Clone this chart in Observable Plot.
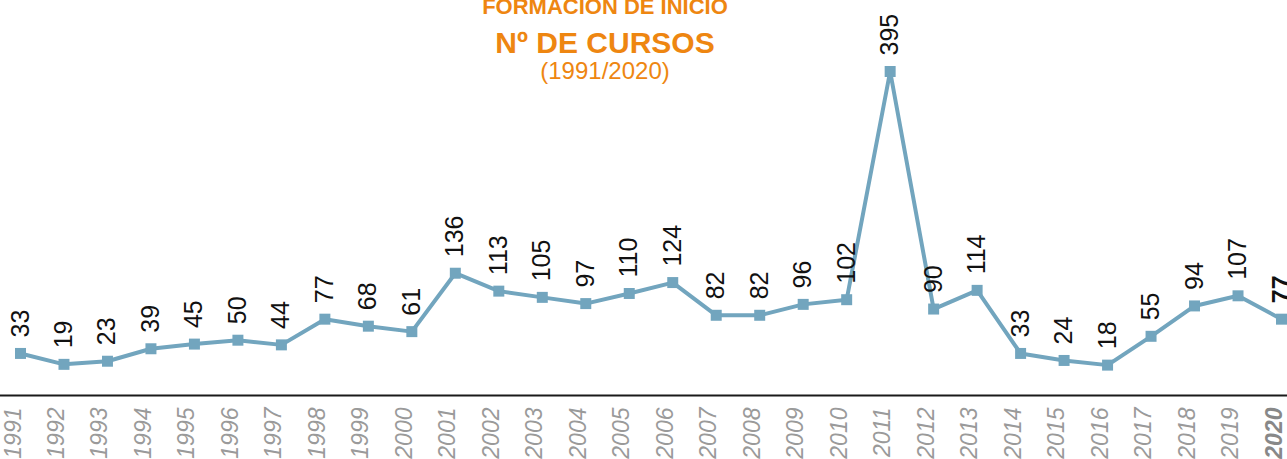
<!DOCTYPE html>
<html>
<head>
<meta charset="utf-8">
<script src="https://cdn.jsdelivr.net/npm/d3@7"></script>
<script src="https://cdn.jsdelivr.net/npm/@observablehq/plot@0.6"></script>
<style>
  body { margin: 0; background: #fff; }
  #wrap { position: relative; width: 1287px; height: 459px; overflow: hidden; font-family: "Liberation Sans", Arial, sans-serif; }
  .t { position: absolute; left: 605px; transform: translateX(-50%); white-space: nowrap; color: #EE8611; line-height: 1; }
  #t1 { top: -3.6px; font-size: 22px; font-weight: bold; }
  #t2 { top: 27.6px; font-size: 30px; font-weight: bold; }
  #t3 { top: 59px; font-size: 24px; }
  #chart { position: absolute; left: 0; top: 0; }
</style>
</head>
<body>
<div id="wrap">
  <div id="chart"></div>
  <div class="t" id="t1">FORMACION DE INICIO</div>
  <div class="t" id="t2">Nº DE CURSOS</div>
  <div class="t" id="t3">(1991/2020)</div>
</div>
<script>
const years = [1991, 1992, 1993, 1994, 1995, 1996, 1997, 1998, 1999, 2000,
               2001, 2002, 2003, 2004, 2005, 2006, 2007, 2008, 2009, 2010,
               2011, 2012, 2013, 2014, 2015, 2016, 2017, 2018, 2019, 2020];
const cursos = [33, 19, 23, 39, 45, 50, 44, 77, 68, 61,
                136, 113, 105, 97, 110, 124, 82, 82, 96, 102,
                395, 90, 114, 33, 24, 18, 55, 94, 107, 77];
const highlightYear = 2020;

const data = years.map((y, i) => ({year: y, value: cursos[i]}));
const normal = data.filter(d => d.year !== highlightYear);
const last = data.filter(d => d.year === highlightYear);
const lineColor = "#72A5BE";

const chart = Plot.plot({
  width: 1287,
  height: 459,
  marginLeft: 20,
  marginRight: 6,
  marginTop: 71,
  marginBottom: 64,
  x: {domain: [1991, 2020], axis: null},
  y: {domain: [-21, 395], axis: null},
  style: {fontFamily: "'Liberation Sans', Arial, sans-serif", background: "transparent", overflow: "visible"},
  marks: [
    Plot.ruleY([-21], {stroke: "#1a1a1a", strokeWidth: 2, insetLeft: -20, insetRight: -6}),
    Plot.line(data, {x: "year", y: "value", stroke: lineColor, strokeWidth: 4}),
    Plot.dot(data, {x: "year", y: "value", symbol: "square", r: 6.2, fill: lineColor}),
    Plot.text(normal, {x: "year", y: "value", text: d => String(d.value), rotate: -90, textAnchor: "start", dy: -16, fontSize: 25, fill: "#111"}),
    Plot.text(last, {x: "year", y: "value", text: d => String(d.value), rotate: -90, textAnchor: "start", dy: -16, fontSize: 25, fill: "#111", fontWeight: "bold"}),
    Plot.text(normal, {x: "year", frameAnchor: "bottom", text: d => String(d.year), rotate: -90, textAnchor: "end", dy: 12, fontSize: 23, fontStyle: "italic", fill: "#9a9a9a"}),
    Plot.text(last, {x: "year", frameAnchor: "bottom", text: d => String(d.year), rotate: -90, textAnchor: "end", dy: 12, fontSize: 23, fontStyle: "italic", fontWeight: "bold", fill: "#888"})
  ]
});
document.getElementById("chart").appendChild(chart);
</script>
</body>
</html>
